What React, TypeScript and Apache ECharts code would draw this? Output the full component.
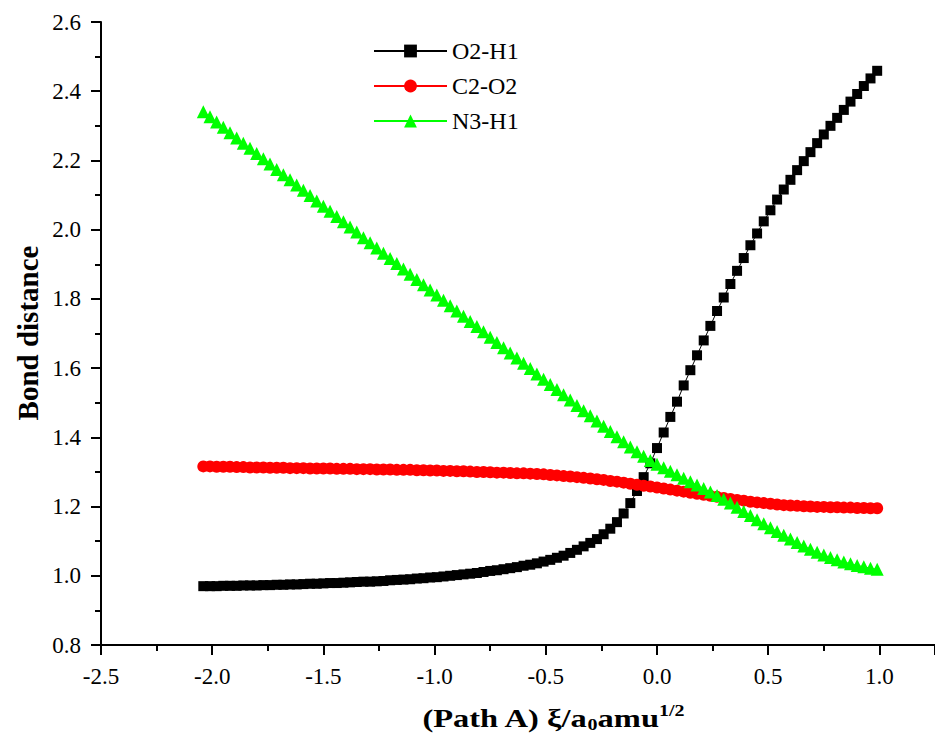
import React, { useEffect, useRef } from "react";
import * as echarts from "echarts";

const FONT = "'Liberation Serif', 'Times New Roman', serif";

// reaction coordinate (Path A), xi / a0 amu^1/2
const xi = [
  -2.04, -2.01, -1.98, -1.95, -1.92, -1.89, -1.86, -1.83, -1.8, -1.77,
  -1.74, -1.71, -1.68, -1.65, -1.62, -1.59, -1.56, -1.53, -1.5, -1.47,
  -1.44, -1.41, -1.38, -1.35, -1.32, -1.29, -1.26, -1.23, -1.2, -1.17,
  -1.14, -1.11, -1.08, -1.05, -1.02, -0.99, -0.96, -0.93, -0.9, -0.87,
  -0.84, -0.81, -0.78, -0.75, -0.72, -0.69, -0.66, -0.63, -0.6, -0.57,
  -0.54, -0.51, -0.48, -0.45, -0.42, -0.39, -0.36, -0.33, -0.3, -0.27,
  -0.24, -0.21, -0.18, -0.15, -0.12, -0.09, -0.06, -0.03, 0.0, 0.03,
  0.06, 0.09, 0.12, 0.15, 0.18, 0.21, 0.24, 0.27, 0.3, 0.33,
  0.36, 0.39, 0.42, 0.45, 0.48, 0.51, 0.54, 0.57, 0.6, 0.63,
  0.66, 0.69, 0.72, 0.75, 0.78, 0.81, 0.84, 0.87, 0.9, 0.93,
  0.96, 0.99,
];

const o2h1 = [
  0.970, 0.970, 0.970, 0.971, 0.971, 0.971, 0.972, 0.972, 0.972, 0.973,
  0.973, 0.974, 0.974, 0.975, 0.975, 0.976, 0.977, 0.977, 0.978, 0.979,
  0.979, 0.980, 0.981, 0.982, 0.983, 0.983, 0.984, 0.985, 0.987, 0.988,
  0.989, 0.990, 0.992, 0.993, 0.995, 0.996, 0.998, 1.000, 1.002, 1.004,
  1.006, 1.008, 1.011, 1.014, 1.016, 1.019, 1.022, 1.025, 1.029, 1.032,
  1.036, 1.041, 1.046, 1.052, 1.058, 1.066, 1.075, 1.085, 1.095, 1.106,
  1.120, 1.136, 1.155, 1.180, 1.210, 1.245, 1.285, 1.325, 1.369, 1.414,
  1.459, 1.503, 1.550, 1.594, 1.637, 1.680, 1.722, 1.765, 1.804, 1.843,
  1.881, 1.918, 1.955, 1.989, 2.024, 2.056, 2.087, 2.116, 2.144, 2.172,
  2.198, 2.224, 2.250, 2.275, 2.300, 2.323, 2.346, 2.370, 2.392, 2.415,
  2.437, 2.459,
];

const c2o2 = [
  1.316, 1.316, 1.315, 1.315, 1.315, 1.314, 1.314, 1.313, 1.313, 1.313,
  1.312, 1.312, 1.312, 1.311, 1.311, 1.311, 1.310, 1.310, 1.310, 1.310,
  1.309, 1.309, 1.309, 1.308, 1.308, 1.308, 1.307, 1.307, 1.307, 1.306,
  1.306, 1.306, 1.305, 1.305, 1.304, 1.304, 1.303, 1.303, 1.302, 1.302,
  1.301, 1.300, 1.300, 1.299, 1.298, 1.298, 1.297, 1.296, 1.296, 1.295,
  1.294, 1.293, 1.291, 1.290, 1.288, 1.287, 1.285, 1.283, 1.281, 1.279,
  1.277, 1.274, 1.272, 1.269, 1.266, 1.263, 1.260, 1.258, 1.255, 1.252,
  1.249, 1.246, 1.243, 1.240, 1.237, 1.234, 1.231, 1.228, 1.225, 1.222,
  1.219, 1.217, 1.214, 1.212, 1.210, 1.208, 1.206, 1.204, 1.203, 1.202,
  1.201, 1.200, 1.199, 1.199, 1.198, 1.198, 1.197, 1.197, 1.196, 1.196,
  1.195, 1.195,
];

const n3h1 = [
  2.341, 2.326, 2.311, 2.296, 2.280, 2.265, 2.250, 2.235, 2.220, 2.205,
  2.190, 2.174, 2.159, 2.144, 2.129, 2.114, 2.099, 2.083, 2.068, 2.053,
  2.038, 2.023, 2.008, 1.993, 1.977, 1.962, 1.947, 1.932, 1.917, 1.902,
  1.886, 1.871, 1.856, 1.841, 1.826, 1.811, 1.796, 1.780, 1.765, 1.750,
  1.735, 1.720, 1.705, 1.689, 1.674, 1.659, 1.644, 1.629, 1.614, 1.599,
  1.583, 1.568, 1.553, 1.538, 1.523, 1.508, 1.492, 1.477, 1.462, 1.447,
  1.432, 1.417, 1.402, 1.387, 1.372, 1.358, 1.345, 1.333, 1.322, 1.312,
  1.302, 1.292, 1.282, 1.272, 1.262, 1.252, 1.242, 1.232, 1.221, 1.210,
  1.198, 1.186, 1.174, 1.162, 1.150, 1.139, 1.128, 1.117, 1.106, 1.096,
  1.086, 1.077, 1.068, 1.060, 1.053, 1.046, 1.040, 1.035, 1.030, 1.026,
  1.022, 1.019,
];

const seriesNames = ["O2-H1", "C2-O2", "N3-H1"];
const seriesColors = ["#000000", "#ff0000", "#00ff00"];
const seriesSymbols = ["rect", "circle", "triangle"];
const seriesSizes = [10, 12, 13];
const seriesValues = [o2h1, c2o2, n3h1];

const yAxisTitle = "Bond distance";

export default function App() {
  const ref = useRef<HTMLDivElement>(null);

  useEffect(() => {
    const chart = echarts.init(ref.current!, null, { renderer: "svg" });
    const fmtX = (v: number) =>
      Math.abs(v * 2 - Math.round(v * 2)) < 1e-6 ? v.toFixed(1) : "";
    const axisCommon = {
      axisLine: { show: true, onZero: false, lineStyle: { color: "#000", width: 2 } },
      axisTick: { show: true, inside: false, length: 10, lineStyle: { color: "#000", width: 2 } },
      minorTick: { show: true, splitNumber: 2, length: 6, lineStyle: { color: "#000", width: 2 } },
      splitLine: { show: false },
      minorSplitLine: { show: false },
    };
    chart.setOption({
      animation: false,
      backgroundColor: "#ffffff",
      grid: { left: 101, right: -1, top: 22, bottom: 98 },
      legend: {
        orient: "vertical",
        left: 368,
        top: 34,
        itemWidth: 73,
        itemHeight: 16,
        itemGap: 11,
        textStyle: { fontFamily: FONT, fontSize: 24, color: "#000" },
        data: seriesNames,
      },
      xAxis: {
        type: "value",
        min: -2.5,
        max: 1.25,
        interval: 0.5,
        ...axisCommon,
        axisLabel: {
          formatter: fmtX,
          margin: 20,
          showMaxLabel: false,
          fontFamily: FONT,
          fontSize: 23,
          color: "#000",
        },
      },
      yAxis: {
        type: "value",
        min: 0.8,
        max: 2.6,
        interval: 0.2,
        ...axisCommon,
        axisLabel: {
          formatter: (v: number) => v.toFixed(1),
          margin: 20,
          fontFamily: FONT,
          fontSize: 23,
          color: "#000",
        },
      },
      graphic: [
        {
          type: "text",
          x: 28,
          y: 333,
          rotation: Math.PI / 2,
          style: {
            text: yAxisTitle,
            font: `bold 29px ${FONT}`,
            align: "center",
            verticalAlign: "middle",
            fill: "#000",
          },
        },
        {
          type: "text",
          x: 553,
          y: 718,
          scaleX: 1.25,
          style: {
            text: "{b|(Path A) ξ/a}{sub|0}{b|amu}{sup|1/2}",
            align: "center",
            verticalAlign: "middle",
            rich: {
              b: { fontFamily: FONT, fontWeight: "bold", fontSize: 26, fill: "#000" },
              sub: { fontFamily: FONT, fontWeight: "bold", fontSize: 16, fill: "#000", padding: [13, 0, 0, 0] },
              sup: { fontFamily: FONT, fontWeight: "bold", fontSize: 16, fill: "#000", padding: [0, 0, 15, 0] },
            },
          },
        },
      ],
      series: seriesNames.map((name, s) => ({
        name,
        type: "line",
        data: xi.map((x, i) => [x, seriesValues[s][i]]),
        symbol: seriesSymbols[s],
        symbolSize: seriesSizes[s],
        showAllSymbol: true,
        itemStyle: { color: seriesColors[s] },
        lineStyle: { color: seriesColors[s], width: 1 },
        emphasis: { disabled: true },
      })),
    });
    return () => chart.dispose();
  }, []);

  return (
    <div
      ref={ref}
      style={{ position: "fixed", left: 0, top: 0, width: 935, height: 743 }}
    />
  );
}
